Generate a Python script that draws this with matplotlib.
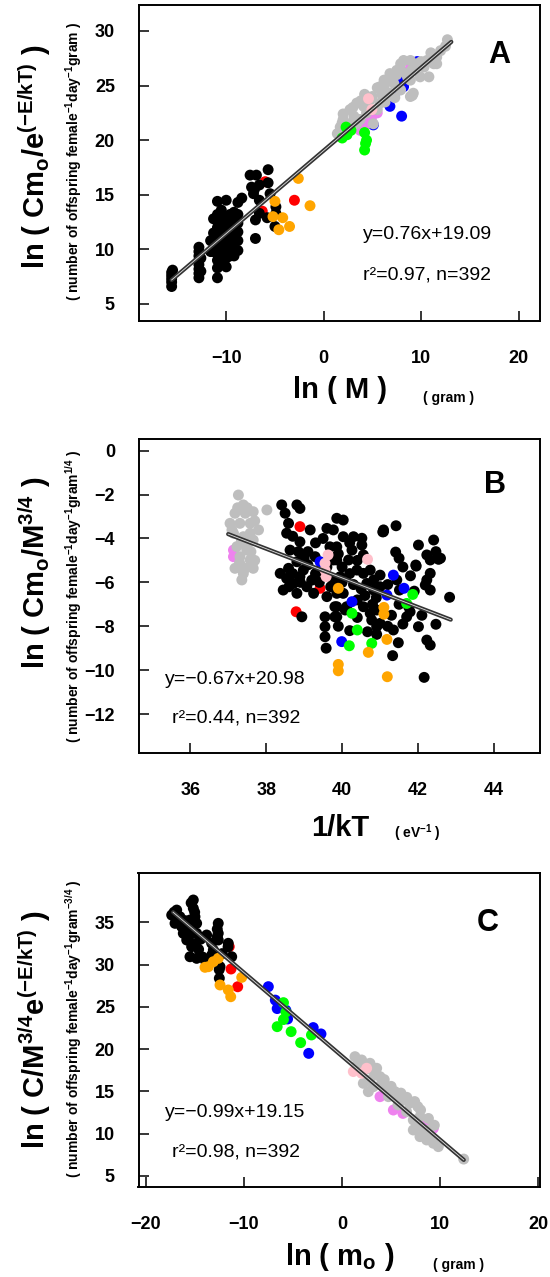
import numpy as np
import matplotlib
matplotlib.use("Agg")
from matplotlib import pyplot as plt

plt.rcParams['font.family'] = ['Liberation Sans', 'DejaVu Sans']
plt.rcParams['mathtext.fontset'] = 'custom'
plt.rcParams['mathtext.rm'] = 'Liberation Sans:bold'
plt.rcParams['mathtext.it'] = 'Liberation Sans:bold'
plt.rcParams['mathtext.bf'] = 'Liberation Sans:bold'
plt.rcParams['mathtext.sf'] = 'Liberation Sans:bold'
plt.rcParams['mathtext.default'] = 'rm'

# R colour names used by the original
COLORS = {"black": "#000000", "red": "#ff0000", "orange": "#ffa500", "green": "#00ff00",
          "blue": "#0000ff", "violet": "#ee82ee", "pink": "#ffc0cb", "gray": "#bebebe"}

# ---------------- panel A : ln(M) vs ln(Cmo/e^(-E/kT)) ----------------
a_black = [(-15.6, 6.6), (-15.6, 7.0), (-15.6, 7.3), (-15.6, 7.6), (-15.6, 7.9), (-15.5, 8.1),
           (-12.8, 7.4), (-12.8, 7.8), (-12.8, 8.2), (-12.8, 8.6), (-12.8, 9.0), (-12.8, 9.4),
           (-12.8, 9.8), (-12.8, 10.2), (-12.6, 8.0), (-12.6, 9.2),
           (-11.6, 9.8), (-11.6, 10.8), (-11.3, 9.8), (-11.3, 10.6), (-11.3, 11.5), (-11.3, 12.8),
           (-10.9, 7.4), (-10.9, 8.3), (-10.9, 9.0), (-10.9, 9.6), (-10.9, 10.2), (-10.9, 10.8),
           (-10.9, 11.4), (-10.9, 12.0), (-10.9, 12.6), (-10.9, 13.2), (-10.9, 14.4),
           (-10.5, 8.8), (-10.5, 9.6), (-10.5, 10.4), (-10.5, 11.2), (-10.5, 12.0), (-10.5, 12.8), (-10.5, 13.6),
           (-10.0, 8.4), (-10.0, 9.2), (-10.0, 10.0), (-10.0, 10.8), (-10.0, 11.6), (-10.0, 12.4),
           (-10.0, 13.0), (-10.0, 14.5),
           (-9.6, 9.4), (-9.6, 10.4), (-9.6, 11.4), (-9.6, 12.2), (-9.6, 13.2),
           (-9.2, 9.4), (-9.2, 10.2), (-9.2, 11.0), (-9.2, 11.8), (-9.2, 12.6), (-9.2, 13.4),
           (-8.8, 9.9), (-8.8, 10.8), (-8.8, 11.6), (-8.8, 12.4), (-8.8, 13.2), (-8.8, 14.3), (-8.4, 14.7),
           (-7.55, 16.8), (-7.4, 15.7), (-7.2, 15.1), (-7.1, 15.5), (-7.0, 12.7), (-7.0, 11.0),
           (-6.9, 16.8), (-6.6, 13.3), (-6.6, 14.5), (-6.6, 15.9),
           (-5.7, 17.3), (-5.7, 16.1), (-5.5, 15.1), (-5.8, 12.9), (-5.0, 12.1), (-4.9, 13.3), (-4.9, 13.9)]
a_red = [(-6.0, 16.2), (-6.3, 13.5), (-3.0, 14.5)]
a_orange = [(-2.6, 16.5), (-5.0, 14.4), (-5.2, 13.0), (-4.2, 12.9), (-4.6, 11.8), (-3.5, 12.1), (-1.4, 14.0)]
a_blue = [(8.0, 22.2), (7.9, 25.7), (6.8, 23.1), (9.6, 27.2), (7.7, 24.6), (5.1, 21.4), (8.2, 24.9)]
a_violet = [(8.9, 26.6), (3.75, 20.9), (4.4, 21.5), (5.5, 22.5), (4.9, 22.0), (4.1, 21.2)]
a_gray = [(1.4, 20.6), (1.7, 21.2), (2.0, 21.9), (2.4, 21.2), (2.7, 22.8), (3.1, 22.2), (3.4, 23.4),
          (3.4, 21.5), (3.75, 21.9), (4.1, 23.1), (4.4, 24.0), (4.4, 22.5), (4.8, 23.7), (5.1, 21.5),
          (5.5, 24.8), (5.5, 22.8), (5.8, 23.4), (5.8, 24.9), (6.2, 24.9), (6.2, 25.5), (6.5, 25.5),
          (6.8, 24.3), (6.8, 26.1), (7.2, 25.2), (7.5, 26.4), (7.9, 27.0), (7.9, 24.6), (8.2, 27.3),
          (8.6, 25.8), (8.9, 27.3), (8.9, 25.5), (8.9, 24.0), (9.2, 24.3), (9.1, 24.1), (9.6, 27.0),
          (9.9, 25.8), (10.3, 26.7), (10.6, 27.3), (10.8, 25.8), (11.3, 27.0), (11.6, 27.6), (11.6, 27.0),
          (12.5, 28.6), (12.7, 29.2), (2.0, 22.4), (3.0, 23.0), (3.8, 23.6), (4.2, 24.2), (5.0, 24.0),
          (6.0, 24.2), (7.0, 25.6), (7.5, 26.0), (8.0, 26.3), (9.0, 26.4), (10.0, 27.2), (11.0, 28.0),
          (12.0, 28.2), (1.9, 21.6), (2.9, 21.6), (6.3, 23.5), (7.3, 23.9)]
a_pink = [(4.6, 23.8), (4.95, 22.8)]
a_green = [(2.3, 21.2), (1.9, 20.2), (2.4, 20.5), (2.8, 20.9), (4.2, 20.7), (4.3, 19.7), (4.2, 19.1), (4.4, 20.0)]
a_fit_x = [-15.6, 13.1]
a_fit_y = [7.2, 29.0]

# ---------------- panel B : 1/kT vs ln(Cmo/M^3/4) ----------------
b_gray = [(37.27, -2.02), (37.4, -2.47), (37.18, -2.85), (37.45, -2.85), (37.66, -2.78), (38.02, -2.7),
          (37.05, -3.31), (37.31, -3.31), (37.58, -3.31), (37.8, -3.61), (37.14, -3.76), (37.4, -3.92),
          (37.66, -4.07), (37.23, -4.37), (37.49, -4.53), (37.31, -4.83), (37.58, -4.98), (37.18, -5.36),
          (37.45, -5.36), (37.66, -5.36), (37.36, -5.89), (37.1, -3.61), (37.58, -3.76), (37.35, -4.1),
          (37.6, -4.6), (37.3, -5.1), (37.5, -2.6), (37.7, -3.2), (37.25, -2.6), (37.5, -4.3),
          (37.7, -5.0), (37.4, -5.6)]
b_violet = [(37.14, -4.53), (37.14, -4.83)]
b_black = [(38.41, -2.47), (38.5, -2.85), (38.81, -2.47), (38.89, -2.63), (38.59, -3.31), (39.16, -3.61),
           (38.54, -3.76), (38.89, -4.15), (38.85, -4.6), (38.81, -5.06), (38.59, -5.36), (38.54, -5.82),
           (38.72, -6.05), (38.89, -5.74), (39.07, -6.2), (38.81, -6.5), (39.25, -6.5), (39.42, -5.44),
           (39.29, -4.83), (39.6, -3.54), (39.68, -4.38), (39.86, -3.08), (40.03, -3.16), (39.77, -4.98),
           (39.55, -5.59), (39.77, -5.89), (39.86, -6.5), (39.6, -6.65), (39.55, -7.57), (39.55, -8.02),
           (39.55, -8.48), (39.58, -9.0), (39.86, -7.57), (40.12, -7.11), (39.81, -7.11), (38.94, -7.57),
           (38.45, -6.35), (38.37, -5.59), (38.98, -5.44), (38.63, -4.53),
           (39.77, -3.61), (40.03, -3.92), (40.3, -3.92), (40.52, -3.99), (40.52, -4.3), (39.86, -4.38),
           (40.26, -4.53), (39.86, -4.98), (40.17, -4.98), (40.56, -4.75), (41.09, -3.61), (41.42, -3.42),
           (41.07, -3.7), (41.41, -4.62), (42.01, -4.3), (42.41, -4.07), (42.47, -4.6), (42.23, -4.75),
           (42.32, -4.98), (42.54, -4.95), (41.95, -5.26), (42.32, -5.59), (42.23, -5.89), (42.19, -6.12),
           (42.32, -6.35), (42.83, -6.68), (40.74, -5.44), (41.0, -5.67), (40.83, -5.89), (40.56, -5.59),
           (40.39, -5.44), (40.65, -6.05), (40.83, -6.35), (41.44, -5.89), (41.51, -6.35), (39.81, -5.89),
           (39.95, -5.74), (40.03, -6.5), (39.86, -7.11), (40.08, -7.26), (39.81, -7.57), (40.56, -7.11),
           (40.74, -7.41), (40.91, -7.26), (40.78, -7.72), (41.0, -7.87), (40.91, -8.02), (40.67, -8.25),
           (40.91, -8.37), (41.35, -8.17), (41.7, -7.57), (41.79, -7.34), (42.01, -8.02), (42.47, -7.91),
           (41.48, -8.75), (41.33, -9.34), (42.23, -8.63), (42.32, -8.86), (42.16, -10.33), (41.75, -7.11),
           (41.94, -5.21), (42.59, -4.9), (41.09, -3.69),
           (39.2, -5.9), (39.4, -6.0), (39.1, -5.2), (39.3, -5.6), (40.3, -6.1), (40.5, -6.3), (40.2, -5.6),
           (40.0, -6.0), (40.4, -6.8), (40.6, -6.6), (40.9, -6.7), (41.2, -6.1), (41.0, -6.2), (40.8, -7.0),
           (41.3, -7.5), (41.5, -7.0), (41.6, -7.9), (41.2, -8.0), (40.4, -7.6), (40.2, -8.2), (39.9, -8.0),
           (38.7, -5.6), (38.6, -6.2), (38.9, -6.0), (39.0, -4.9), (39.1, -4.6), (38.7, -3.9), (39.3, -4.2),
           (39.5, -4.0), (39.9, -4.7), (40.2, -4.2), (40.4, -5.0), (39.6, -5.3), (39.7, -6.2), (40.0, -5.3),
           (41.6, -5.3), (41.8, -5.7), (41.5, -4.9), (42.1, -7.5), (41.9, -6.4)]
b_red = [(38.89, -3.46), (38.79, -7.34), (39.42, -6.27)]
b_pink = [(39.55, -5.13), (39.58, -5.74), (39.55, -5.44), (39.63, -4.75), (40.67, -4.95)]
b_blue = [(39.42, -5.06), (39.99, -8.7), (40.26, -6.88), (41.35, -5.67), (41.63, -6.27), (41.18, -6.58)]
b_green = [(41.86, -6.55), (40.26, -7.41), (40.4, -8.17), (40.19, -8.89), (40.78, -8.78), (41.7, -6.96)]
b_orange = [(39.9, -6.27), (41.1, -7.14), (41.1, -7.45), (41.18, -8.6), (40.69, -9.19), (39.9, -9.74),
            (39.9, -10.03), (41.19, -10.3)]
b_fit_x = [37.0, 42.86]
b_fit_y = [-3.8, -7.7]

# ---------------- panel C : ln(mo) vs ln(C/M^3/4 e^(-E/kT)) ----------------
c_black = [(-17.34, 35.86), (-16.83, 36.45), (-16.5, 35.66), (-17.0, 34.88), (-16.32, 34.48), (-16.16, 33.7),
           (-15.81, 32.91), (-15.31, 32.12), (-15.14, 37.64), (-15.14, 36.66), (-14.97, 35.66), (-14.8, 34.88),
           (-15.48, 35.27), (-15.48, 34.09), (-14.8, 33.7), (-15.48, 30.93), (-14.8, 30.74), (-13.95, 30.54),
           (-13.78, 33.5), (-13.27, 32.52), (-13.1, 31.73), (-12.6, 34.88), (-12.6, 33.7), (-12.6, 32.91),
           (-13.27, 31.13), (-12.42, 29.75), (-11.58, 32.52), (-11.23, 30.93), (-12.49, 28.38), (-15.36, 37.3),
           (-15.0, 36.2), (-14.9, 32.5), (-16.0, 35.2), (-16.7, 35.0), (-17.1, 36.2), (-15.6, 33.3),
           (-14.6, 31.8), (-12.7, 34.2), (-12.7, 33.3), (-12.5, 29.4), (-11.6, 32.1), (-12.2, 31.3),
           (-14.2, 30.9), (-13.5, 30.2), (-15.8, 34.2), (-14.4, 33.0), (-16.9, 35.4)]
c_red = [(-11.48, 32.12), (-11.3, 29.48), (-10.62, 27.38)]
c_orange = [(-13.61, 29.75), (-13.1, 30.34), (-12.6, 30.74), (-12.42, 27.59), (-11.58, 27.0), (-11.33, 26.2),
            (-10.21, 28.49), (-13.95, 29.68)]
c_blue = [(-7.5, 27.39), (-6.79, 25.8), (-6.6, 24.8), (-5.71, 24.6), (-5.54, 23.57), (-2.93, 22.55),
          (-2.14, 21.8), (-3.39, 19.5)]
c_green = [(-5.96, 25.5), (-6.6, 22.66), (-5.96, 23.5), (-5.18, 22.07), (-4.21, 20.77), (-3.11, 21.68),
           (-5.71, 24.4)]
c_gray = [(1.32, 19.11), (2.0, 18.72), (2.85, 18.33), (3.53, 17.74), (3.87, 16.75), (2.85, 16.35), (3.19, 15.56),
          (2.68, 14.97), (4.56, 15.56), (5.4, 14.97), (4.73, 14.38), (6.2, 13.99), (6.87, 13.6), (7.72, 13.2),
          (5.7, 13.4), (7.94, 12.01), (7.26, 11.62), (6.58, 12.6), (7.26, 10.44), (7.94, 9.65), (8.62, 9.26),
          (9.3, 8.87), (9.81, 8.47), (7.94, 10.83), (8.79, 10.44), (2.17, 15.96), (5.57, 14.58), (4.04, 15.96),
          (12.39, 7.0), (1.6, 18.3), (2.4, 17.6), (3.3, 17.0), (4.3, 16.4), (5.0, 15.6), (6.0, 14.8),
          (6.6, 14.3), (7.4, 13.8), (8.0, 12.8), (8.8, 11.8), (9.4, 11.0), (9.0, 9.8), (8.4, 10.0)]
c_pink = [(2.51, 17.74), (1.15, 17.35), (2.0, 17.15)]
c_violet = [(3.87, 14.38), (5.23, 12.8), (6.2, 12.4), (7.6, 11.42), (9.3, 10.63), (8.62, 11.22)]
c_fit_x = [-17.2, 12.4]
c_fit_y = [36.2, 6.9]

W, H = 550, 1277


def fx(px):
    return px / W


def fy(py):
    return 1 - py / H


def draw_panel(ax, groups, fit_x, fit_y):
    # draw order mimics the original overlap
    for name in ["red", "black", "blue", "violet", "gray", "pink", "green", "orange"]:
        pts = groups.get(name)
        if not pts:
            continue
        xy = np.array(pts)
        ax.scatter(xy[:, 0], xy[:, 1], s=62, color=COLORS[name], edgecolors='none', zorder=2)
    ax.plot(fit_x, fit_y, color='#333333', lw=3.0, solid_capstyle='round', zorder=3)
    ax.plot(fit_x, fit_y, color='white', lw=0.6, alpha=0.85, zorder=4)
    for s in ax.spines.values():
        s.set_linewidth(1.4)
    ax.tick_params(direction='in', length=7.5, width=1.1)
    ax.tick_params(axis='y', pad=17)
    ax.tick_params(axis='x', pad=21)
    for lab in ax.get_xticklabels() + ax.get_yticklabels():
        lab.set_fontweight('bold')
        lab.set_fontsize(13)


fig = plt.figure(figsize=(5.5, 12.77), dpi=100)

# panel A
axA = fig.add_axes([fx(138.5), fy(320.7), fx(540) - fx(138.5), 315.7 / H])
axA.set_xlim(-19.0, 22.2)
axA.set_ylim(3.47, 32.38)
axA.set_xticks([-10, 0, 10, 20])
axA.set_yticks([5, 10, 15, 20, 25, 30])
draw_panel(axA, {"black": a_black, "red": a_red, "orange": a_orange, "blue": a_blue, "violet": a_violet,
                 "gray": a_gray, "pink": a_pink, "green": a_green}, a_fit_x, a_fit_y)
axA.text(4.06, 11.32, "y=0.76x+19.09", fontsize=14, ha='left', va='center')
axA.text(4.06, 7.66, "r²=0.97, n=392", fontsize=14, ha='left', va='center')
axA.text(18.0, 27.8, "A", fontsize=22, fontweight='bold', ha='center', va='center')

# panel B
axB = fig.add_axes([fx(138.5), fy(753.3), fx(540) - fx(138.5), 314 / H])
axB.set_xlim(34.64, 45.21)
axB.set_ylim(-13.79, 0.52)
axB.set_xticks([36, 38, 40, 42, 44])
axB.set_yticks([0, -2, -4, -6, -8, -10, -12])
draw_panel(axB, {"black": b_black, "red": b_red, "orange": b_orange, "blue": b_blue, "violet": b_violet,
                 "gray": b_gray, "pink": b_pink, "green": b_green}, b_fit_x, b_fit_y)
axB.text(35.34, -10.42, "y=\u22120.67x+20.98", fontsize=14, ha='left', va='center')
axB.text(35.52, -12.2, "r²=0.44, n=392", fontsize=14, ha='left', va='center')
axB.text(44.02, -1.56, "B", fontsize=22, fontweight='bold', ha='center', va='center')

# panel C
axC = fig.add_axes([fx(138.5), fy(1187.3), fx(540) - fx(138.5), 314.6 / H])
axC.set_xlim(-20.72, 20.16)
axC.set_ylim(3.66, 40.87)
axC.set_xticks([-20, -10, 0, 10, 20])
axC.set_yticks([5, 10, 15, 20, 25, 30, 35])
draw_panel(axC, {"black": c_black, "red": c_red, "orange": c_orange, "blue": c_blue, "violet": c_violet,
                 "gray": c_gray, "pink": c_pink, "green": c_green}, c_fit_x, c_fit_y)
axC.text(-18.03, 12.49, "y=\u22120.99x+19.15", fontsize=14, ha='left', va='center')
axC.text(-17.32, 7.87, "r²=0.98, n=392", fontsize=14, ha='left', va='center')
axC.text(14.82, 34.9, "C", fontsize=22, fontweight='bold', ha='center', va='center')

# axis titles (placed in figure pixels, as in the original layout)
big = dict(fontsize=21, fontweight='bold', ha='center', va='center')
small = dict(fontsize=10, fontweight='bold', ha='center', va='center')

fig.text(fx(35), fy(157), r"ln ( Cm$_{o}$/e$^{(-E/kT)}$ )", rotation=90, **big)
fig.text(fx(74), fy(162), r"( number of offspring female$^{-1}$day$^{-1}$gram )", rotation=90, **small)
fig.text(fx(340), fy(390), "ln ( M )", **big)
fig.text(fx(449), fy(398), "( gram )", **small)

fig.text(fx(35), fy(573), r"ln ( Cm$_{o}$/M$^{3/4}$ )", rotation=90, **big)
fig.text(fx(74), fy(597), r"( number of offspring female$^{-1}$day$^{-1}$gram$^{1/4}$ )", rotation=90, **small)
fig.text(fx(340), fy(828), "1/kT", **big)
fig.text(fx(417), fy(833), r"( eV$^{-1}$ )", **small)

fig.text(fx(35), fy(1030), r"ln ( C/M$^{3/4}$e$^{(-E/kT)}$ )", rotation=90, **big)
fig.text(fx(74), fy(1029), r"( number of offspring female$^{-1}$day$^{-1}$gram$^{-3/4}$ )", rotation=90, **small)
fig.text(fx(340), fy(1257), r"ln ( m$_{o}$ )", **big)
fig.text(fx(459), fy(1265), "( gram )", **small)

fig.savefig("out.png", dpi=100)
